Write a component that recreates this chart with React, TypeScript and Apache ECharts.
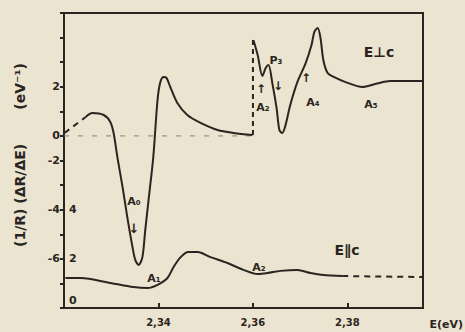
import React, { useEffect, useRef } from "react";
import * as echarts from "echarts";

// E ⊥ c curve, left branch (upper scale units, as drawn)
const perpLeft: [number, number][] = [
  [2.3246, 0.77], [2.326, 0.93], [2.3284, 0.85], [2.3298, 0.57], [2.3305, 0.12],
  [2.3313, -0.86], [2.3324, -2.08], [2.3334, -3.3], [2.3345, -4.52], [2.3351, -5.05],
  [2.3358, -5.25], [2.3366, -4.93], [2.3372, -3.83], [2.3379, -2.61], [2.3389, -0.86],
  [2.3398, 1.46], [2.3404, 2.19], [2.3411, 2.4], [2.3417, 2.36], [2.3425, 1.99],
  [2.344, 1.34], [2.3461, 0.85], [2.3489, 0.53], [2.3525, 0.24], [2.3559, 0.12],
  [2.3599, 0.04],
];
// E ⊥ c curve, right branch
const perpRight: [number, number][] = [
  [2.3601, 3.9], [2.361, 3.29], [2.362, 2.44], [2.3627, 2.76], [2.3633, 2.88],
  [2.3641, 2.15], [2.365, 1.14], [2.3656, 0.24], [2.3662, 0.12], [2.3669, 0.44],
  [2.3679, 1.26], [2.3694, 2.19], [2.3711, 2.93], [2.3724, 3.7], [2.373, 4.23],
  [2.3737, 4.39], [2.3743, 3.98], [2.3749, 3.09], [2.3758, 2.56], [2.3771, 2.4],
  [2.3796, 2.19], [2.3832, 1.99], [2.3859, 2.11], [2.3891, 2.23], [2.396, 2.23],
];
const perpDashStart: [number, number][] = [[2.3201, 0.12], [2.3246, 0.77]];
const perpDashBreak: [number, number][] = [[2.36, 0.04], [2.36, 3.9]];
const zeroLine: [number, number][] = [[2.32, 0], [2.36, 0]];

// E ∥ c curve (lower scale units)
const parSolid: [number, number][] = [
  [2.3203, 1.22], [2.3235, 1.22], [2.3298, 1.02], [2.3347, 0.85], [2.3377, 0.81],
  [2.3398, 0.94], [2.3419, 1.22], [2.3432, 1.67], [2.3447, 2.07], [2.3463, 2.28],
  [2.3483, 2.28], [2.351, 2.07], [2.3546, 1.83], [2.358, 1.55], [2.361, 1.38],
  [2.3631, 1.42], [2.3658, 1.51], [2.3694, 1.55], [2.3722, 1.42], [2.3749, 1.34],
  [2.3789, 1.3],
];
const parDash: [number, number][] = [[2.3789, 1.3], [2.396, 1.26]];

const xTickValues = [2.34, 2.36, 2.38];
const xTickTexts = ["2,34", "2,36", "2,38"];
const upperTickValues = [2, 0, -1, -3, -5];
const upperTickTexts = ["2", "0", "-2", "-4", "-6"];
const lowerTickValues = [0, 2, 4];
const lowerTickTexts = ["0", "2", "4"];

const INK = "#2a2520";
const FONT = "DejaVu Sans";

function pick(values: number[], texts: string[], v: number): string {
  const i = values.findIndex((t) => Math.abs(t - v) < 1e-6);
  return i >= 0 ? texts[i] : "";
}

export default function App() {
  const ref = useRef<HTMLDivElement>(null);
  useEffect(() => {
    if (!ref.current) return;
    const chart = echarts.init(ref.current, null, { renderer: "svg" });
    const solid = (data: [number, number][], yAxisIndex: number) => ({
      type: "line",
      data,
      yAxisIndex,
      smooth: 0.3,
      symbol: "none",
      lineStyle: { color: INK, width: 2 },
      silent: true,
    });
    const dashed = (data: [number, number][], yAxisIndex: number, width = 2, color = INK, dash: number[] = [6, 5]) => ({
      type: "line",
      data,
      yAxisIndex,
      symbol: "none",
      lineStyle: { color, width, type: dash },
      silent: true,
    });
    const txt = (text: string, x: number, y: number, size = 11, extra: any = {}, align = "center") => ({
      type: "text",
      x,
      y,
      style: {
        text,
        fill: INK,
        font: `bold ${size}px "${FONT}"`,
        align,
        verticalAlign: "middle",
      },
      ...extra,
    });
    chart.setOption({
      animation: false,
      backgroundColor: "#ebe4d0",
      grid: {
        left: 64, right: 42, top: 13, bottom: 24,
        show: true, borderColor: INK, borderWidth: 2,
        containLabel: false,
      },
      xAxis: {
        type: "value",
        min: 2.32,
        max: 2.396,
        interval: 0.02,
        axisLine: { show: true, onZero: false, lineStyle: { color: INK, width: 2 } },
        axisTick: { show: true, inside: true, length: 5, lineStyle: { color: INK, width: 2 } },
        splitLine: { show: false },
        axisLabel: {
          color: INK, fontFamily: FONT, fontWeight: "bold", fontSize: 10, margin: 9,
          showMinLabel: false, showMaxLabel: false,
          formatter: (v: number) => pick(xTickValues, xTickTexts, v),
        },
      },
      yAxis: [
        {
          type: "value",
          min: -7,
          max: 5,
          interval: 1,
          position: "left",
          axisLine: { show: true, onZero: false, lineStyle: { color: INK, width: 2 } },
          axisTick: { show: true, length: 4, lineStyle: { color: INK, width: 2 } },
          splitLine: { show: false },
          axisLabel: {
            color: INK, fontFamily: FONT, fontWeight: "bold", fontSize: 11, margin: 4,
            formatter: (v: number) => pick(upperTickValues, upperTickTexts, v),
          },
        },
        {
          type: "value",
          min: 0,
          max: 12,
          interval: 1,
          position: "left",
          axisLine: { show: false, onZero: false },
          axisTick: { show: false },
          splitLine: { show: false },
          axisLabel: {
            inside: true, color: INK, fontFamily: FONT, fontWeight: "bold", fontSize: 11, margin: 5,
            formatter: (v: number) => {
              const t = pick(lowerTickValues, lowerTickTexts, v);
              return v === 0 && t ? `{b|${t}}` : t;
            },
            rich: { b: { color: INK, fontFamily: FONT, fontWeight: "bold", fontSize: 11, padding: [0, 0, 16, 0] } },
          },
        },
      ],
      series: [
        dashed(zeroLine, 0, 1, "#8a8070", [5, 9]),
        dashed(perpDashStart, 0),
        solid(perpLeft, 0),
        dashed(perpDashBreak, 0, 2, INK, [5, 4]),
        solid(perpRight, 0),
        solid(parSolid, 1),
        dashed(parDash, 1),
      ],
      graphic: [
        txt("(1/R) (ΔR/ΔE)       (eV⁻¹)", 20, 155, 14, { rotation: Math.PI / 2 }),
        txt("E(eV)", 463, 324, 11, {}, "right"),
        txt("E⊥c", 379, 52, 14),
        txt("E∥c", 347, 250, 14),
        txt("A₀", 134, 201, 11),
        txt("↓", 134, 228, 13),
        txt("A₁", 154, 278, 11),
        txt("A₂", 259, 267, 11),
        txt("↑", 261, 89, 12),
        txt("A₂", 263, 107, 11),
        txt("P₃", 276, 60, 11),
        txt("↓", 278, 86, 12),
        txt("↑", 306, 78, 12),
        txt("A₄", 313, 102, 11),
        txt("A₅", 371, 104, 11),
      ],
    });
    return () => chart.dispose();
  }, []);
  return (
    <div
      ref={ref}
      style={{ position: "fixed", left: 0, top: 0, width: 465, height: 332 }}
    />
  );
}
